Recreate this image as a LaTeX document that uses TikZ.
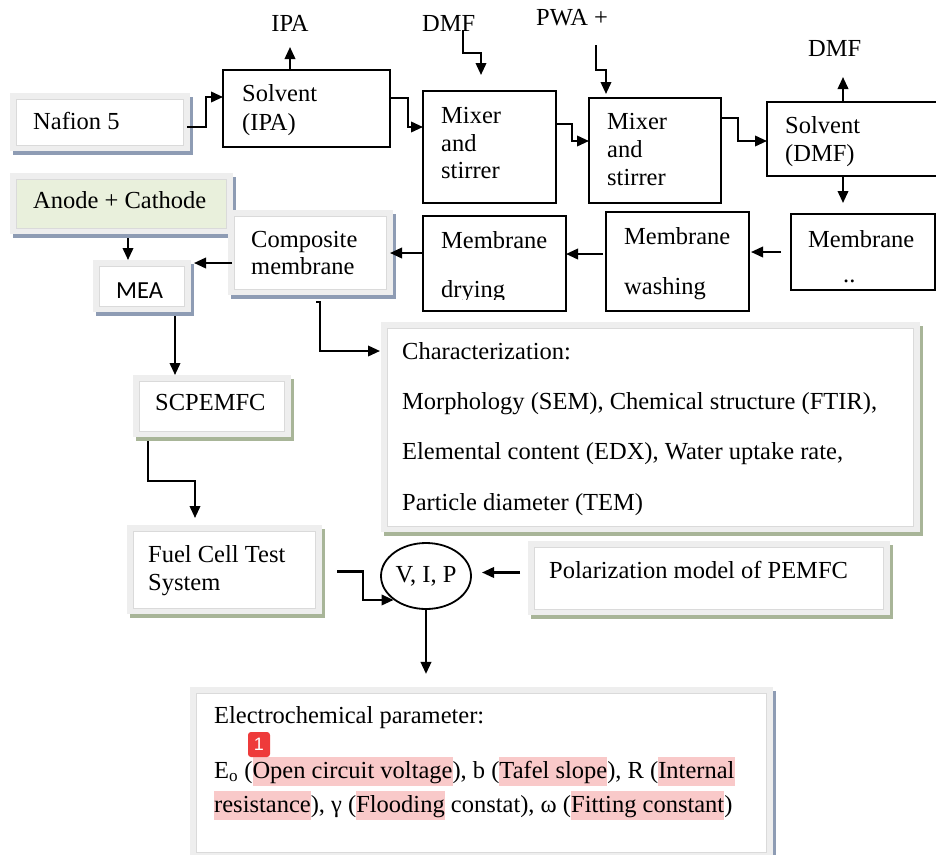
\documentclass[tikz,border=0pt]{standalone}
\usepackage{fontspec}
\setmainfont{Liberation Serif}
\newfontfamily\carlfont{Carlito}
\newfontfamily\badgefont{Liberation Sans}
\usetikzlibrary{arrows.meta,shapes.geometric}
\definecolor{outerg}{HTML}{EEEEEE}
\definecolor{innerb}{HTML}{DADADA}
\definecolor{shblue}{HTML}{8E9CB4}
\definecolor{shgreen}{HTML}{A8B598}
\definecolor{anodefill}{HTML}{E9F0DC}
\definecolor{hlpink}{HTML}{F9C9C9}
\definecolor{badgered}{HTML}{EE3B3B}
% shadowed box: name, x0, y0, x1, y1, shadow colour, inner fill
\newcommand\shbox[7]{%
  \fill[#6] ({#2+3},{#3+4}) rectangle (#4,#5);
  \fill[outerg] (#2,#3) rectangle ({#4-3},{#5-4});
  \filldraw[fill=#7, draw=innerb, line width=1pt] ({#2+6},{#3+6}) rectangle ({#4-10},{#5-10});
  \node[inner sep=0pt, outer sep=0pt, minimum width={#4-#2}, minimum height={#5-#3}, anchor=north west] (#1) at (#2,#3) {};
}
% plain black box: name, x0, y0, x1, y1
\newcommand\plainbox[5]{%
  \node[pboxst, minimum width={#4-#2}, minimum height={#5-#3}, anchor=north west] (#1) at (#2,#3) {};
}
\newcommand\hlt[1]{{\setlength{\fboxsep}{0pt}\colorbox{hlpink}{\rule[-7.5pt]{0pt}{29pt}#1}}}
\begin{document}
\begin{tikzpicture}[x=1pt,y=-1pt,
  every node/.style={font=\fontsize{24.5}{28}\selectfont},
  txt/.style={anchor=base west, inner sep=0pt},
  pboxst/.style={draw, line width=2.2pt, inner sep=0pt, outer sep=0pt},
  arr/.style={line width=2.1pt, -{Triangle[length=12pt,width=10.5pt]}}]
\fill[white] (0,0) rectangle (936,854);
\useasboundingbox (0,0) rectangle (936,854);

% ---------- shadowed boxes ----------
\shbox{nafion}{10}{93}{193}{155}{shblue}{white}
\shbox{anode}{10}{173}{236}{238}{shblue}{anodefill}
\shbox{comp}{228}{210}{396}{299}{shblue}{white}
\shbox{mea}{93}{260}{194}{316}{shblue}{white}
\shbox{scp}{133}{375}{294}{441}{shgreen}{white}
\shbox{fuel}{127}{525}{325}{618}{shgreen}{white}
\shbox{char}{381}{322}{923}{536}{shgreen}{white}
\shbox{pol}{528}{541}{893}{619}{shgreen}{white}
\shbox{elec}{190}{687}{776}{862}{shblue}{white}

% ---------- plain boxes ----------
\plainbox{solv1}{223}{70}{390}{147}
\plainbox{mix1}{423}{91}{556}{203}
\plainbox{mix2}{589}{98}{721}{203}
\plainbox{solv2}{767}{102}{948}{176}
\plainbox{memb}{791}{214}{935}{290}
\plainbox{wash}{606}{212}{749}{311}
\plainbox{dry}{423}{216}{566}{311}

\node[ellipse, draw, line width=1.8pt, minimum width=90pt, minimum height=66pt, inner sep=0pt] (vip) at (426,576) {V, I, P};

% ---------- texts ----------
\node[txt] (tnafion) at (33,129) {Nafion 5};
\node[txt] (tsolv1a) at (242,101) {Solvent};
\node[txt] (tsolv1b) at (242,130) {(IPA)};
\node[anchor=base, inner sep=0pt] (ipa) at (290,31) {IPA};
\node[txt] (dmf1) at (422,31) {DMF};
\node[txt] (tmix1a) at (441,123) {Mixer};
\node[txt] (tmix1b) at (441,151) {and};
\node[txt] (tmix1c) at (441,178) {stirrer};
\node[txt] (pwa) at (536,25) {PWA +};
\node[txt] (tmix2a) at (607,129) {Mixer};
\node[txt] (tmix2b) at (607,157) {and};
\node[txt] (tmix2c) at (607,185) {stirrer};
\node[txt] (tsolv2a) at (785,133) {Solvent};
\node[txt] (tsolv2b) at (785,161) {(DMF)};
\node[txt] (dmf2) at (808,56) {DMF};
\node[txt] (tmemba) at (808,247) {Membrane};
\node[txt] (tmembb) at (843,282) {..};
\node[txt] (twasha) at (624,244) {Membrane};
\node[txt] (twashb) at (624,294) {washing};
\node[txt] (tdrya) at (441,248) {Membrane};
\begin{scope}
  \clip (430,260) rectangle (560,299);
  \node[txt] (tdryb) at (441,297) {drying};
\end{scope}
\node[txt] (tcompa) at (251,247) {Composite};
\node[txt] (tcompb) at (251,274) {membrane};
\node[txt] (tanode) at (33,208) {Anode + Cathode};
\node[txt, font=\fontsize{24.5}{28}\carlfont] (tmea) at (116,298) {MEA};
\node[txt] (tscp) at (155,410) {SCPEMFC};
\node[txt] (tchara) at (402,359) {Characterization:};
\node[txt] (tcharb) at (402,409) {Morphology (SEM), Chemical structure (FTIR),};
\node[txt] (tcharc) at (402,459) {Elemental content (EDX), Water uptake rate,};
\node[txt] (tchard) at (402,510) {Particle diameter (TEM)};
\node[txt] (tfuela) at (148,562) {Fuel Cell Test};
\node[txt] (tfuelb) at (148,590) {System};
\node[txt] (tpol) at (549,578) {Polarization model of PEMFC};
\node[txt] (televa) at (214,723) {Electrochemical parameter:};
\node[txt] (televb) at (214,778) {E\textsubscript{o} (\hlt{Open circuit voltage}), b (\hlt{Tafel slope}), R (\hlt{Internal}};
\node[txt] (televc) at (214,812) {\hlt{resistance}), γ (\hlt{Flooding} constat), ω (\hlt{Fitting constant})};
\node[fill=badgered, rounded corners=3pt, minimum width=22pt, minimum height=25pt, inner sep=0pt,
      text=white, font=\fontsize{18}{20}\badgefont] (badge) at (259,744.5) {1};

% ---------- connectors ----------
\coordinate (dmfin) at (463,30);
\coordinate (pwain) at (596,45);
\draw[arr] ([xshift=-6pt,yshift=-3pt]nafion.east) -- ++(19,0) |- ([yshift=11.5pt]solv1.west);
\draw[arr] ([xshift=-16.5pt]solv1.north) -- ++(0,-23);
\draw[arr] ([yshift=10.5pt]solv1.east) -- ++(18,0) |- ([yshift=20pt]mix1.west);
\draw[arr] (dmfin) -- ++(0,23) -| ([xshift=-8.5pt,yshift=16pt]mix1.north);
\draw[arr] ([yshift=23pt]mix1.east) -- ++(16,0) |- ([yshift=9.5pt]mix2.west);
\draw[arr] (pwain) -- ++(0,25) -| ([xshift=-49pt,yshift=4pt]mix2.north);
\draw[arr] ([yshift=32.5pt]mix2.east) -- ++(17,0) |- ([yshift=-2pt]solv2.west);
\draw[arr] ([xshift=-14.5pt]solv2.north) -- ++(0,-25);
\draw[arr] ([xshift=-14.5pt]solv2.south) -- ++(0,27);
\draw[arr] ([xshift=-10pt]memb.west) -- ++(-30,0);
\draw[arr] ([xshift=-3pt,yshift=7.5pt]wash.west) -- ([yshift=9.5pt]dry.east);
\draw[arr] ([yshift=10.5pt]dry.west) -- ([xshift=-6pt,yshift=1.5pt]comp.east);
\draw[arr] ([xshift=4pt,yshift=-8.5pt]comp.west) -- ++(-38,0);
\draw[arr] ([xshift=5pt]anode.south) -- ([xshift=-15.5pt]mea.north);
\draw[arr] ([xshift=31.5pt]mea.south) -- ([xshift=-38.5pt]scp.north);
\draw[arr] ([xshift=4pt,yshift=-3pt]comp.south) -- ++(4,0) |- ([xshift=-1pt,yshift=78pt]char.west);
\draw[arr] ([xshift=-65.5pt]scp.south) -- ++(0,40) -| ([xshift=-31pt,yshift=7pt]fuel.north);
\draw[arr] ([xshift=12pt]fuel.east) -- ++(26,0) |- (vip.south west);
\draw[arr] ([xshift=-8pt,yshift=7.5pt]pol.west) -- ++(-38,0);
\draw[arr] (vip.south) -- ++(0,64);
\end{tikzpicture}
\end{document}
